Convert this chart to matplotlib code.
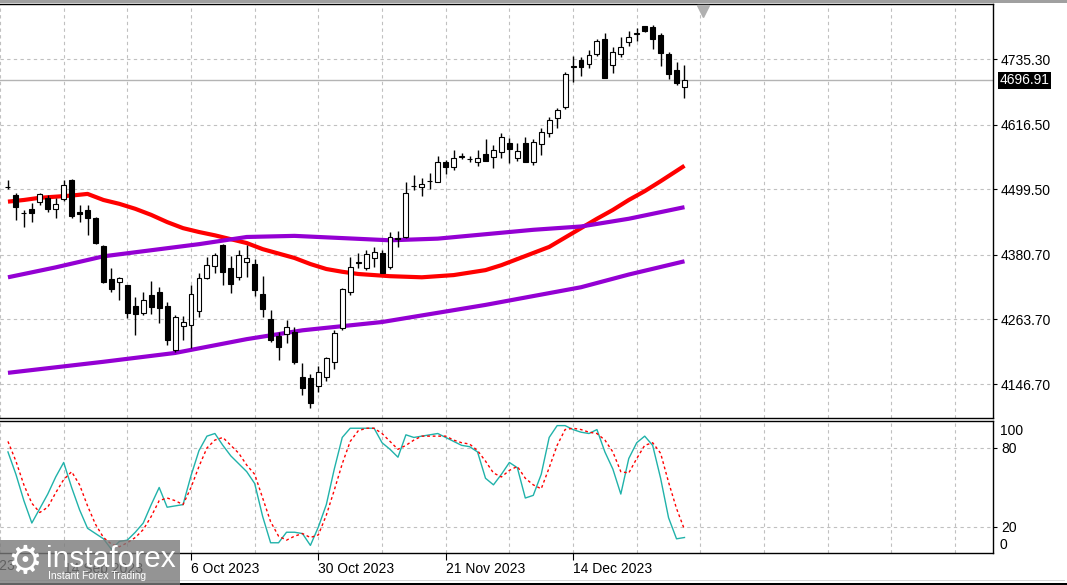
import numpy as np
import matplotlib
matplotlib.use('Agg')
from matplotlib import pyplot as plt
from matplotlib.patches import Rectangle
import matplotlib.transforms as mtransforms

# daily candles, 5 Sep 2023 .. 5 Jan 2024 (one entry per bar)
opens = [4504, 4489, 4457, 4464, 4476, 4484, 4464, 4482, 4516, 4458,
         4462, 4447, 4397, 4337, 4331, 4326, 4288, 4275, 4308, 4313,
         4288, 4208, 4252, 4253, 4279, 4339, 4360, 4398, 4357, 4340,
         4368, 4364, 4310, 4264, 4233, 4237, 4241, 4159, 4158, 4143,
         4159, 4187, 4248, 4313, 4366, 4357, 4375, 4384, 4359, 4409,
         4413, 4505, 4503, 4514, 4512, 4549, 4540, 4558, 4554, 4549,
         4563, 4558, 4567, 4583, 4556, 4583, 4549, 4581, 4601, 4629,
         4648, 4721, 4734, 4726, 4744, 4772, 4724, 4744, 4766, 4781,
         4795, 4793, 4779, 4744, 4715, 4685]
highs = [4516, 4493, 4462, 4475, 4493, 4489, 4484, 4516, 4518, 4471,
         4471, 4449, 4398, 4357, 4340, 4326, 4304, 4313, 4333, 4322,
         4295, 4272, 4270, 4326, 4348, 4377, 4384, 4400, 4378, 4389,
         4398, 4373, 4342, 4281, 4241, 4262, 4250, 4185, 4165, 4179,
         4196, 4244, 4321, 4377, 4384, 4389, 4395, 4389, 4422, 4424,
         4512, 4525, 4520, 4529, 4560, 4552, 4570, 4565, 4560, 4570,
         4590, 4579, 4601, 4592, 4583, 4594, 4590, 4610, 4630, 4647,
         4712, 4741, 4739, 4752, 4772, 4782, 4757, 4775, 4786, 4792,
         4795, 4797, 4782, 4748, 4730, 4724]
lows = [4500, 4444, 4431, 4440, 4471, 4458, 4447, 4478, 4447, 4440,
        4417, 4400, 4329, 4313, 4299, 4266, 4235, 4272, 4273, 4257,
        4217, 4205, 4226, 4212, 4268, 4337, 4348, 4326, 4311, 4335,
        4340, 4306, 4268, 4223, 4190, 4221, 4183, 4127, 4103, 4132,
        4152, 4174, 4244, 4308, 4357, 4353, 4359, 4348, 4355, 4395,
        4411, 4498, 4487, 4500, 4512, 4527, 4534, 4554, 4549, 4541,
        4550, 4538, 4556, 4547, 4550, 4548, 4543, 4561, 4594, 4610,
        4645, 4694, 4704, 4719, 4741, 4700, 4710, 4739, 4759, 4768,
        4784, 4753, 4723, 4699, 4688, 4665]
closes = [4503, 4467, 4456, 4456, 4491, 4464, 4473, 4507, 4451, 4455,
          4447, 4402, 4331, 4319, 4339, 4275, 4273, 4299, 4286, 4284,
          4226, 4268, 4259, 4310, 4339, 4362, 4380, 4350, 4328, 4380,
          4375, 4317, 4282, 4226, 4214, 4250, 4187, 4140, 4112, 4168,
          4194, 4239, 4319, 4359, 4366, 4382, 4386, 4348, 4413, 4411,
          4493, 4505, 4509, 4515, 4549, 4540, 4556, 4558, 4555, 4556,
          4550, 4570, 4594, 4572, 4569, 4549, 4585, 4603, 4625, 4643,
          4708, 4721, 4721, 4742, 4768, 4701, 4748, 4757, 4775, 4781,
          4786, 4772, 4746, 4708, 4692, 4696.91]

# moving averages, read at selected bars
ma_red_idx = [0, 2, 4, 6, 8, 10, 12, 14, 16, 18, 20, 22, 24, 26, 28, 30, 32, 34, 36,
              38, 40, 42, 44, 48, 52, 56, 60, 62, 64, 66, 68, 70, 72, 74, 76, 78, 80, 82, 85]
ma_red = [4477, 4480, 4484, 4486, 4488, 4491, 4480, 4473, 4464, 4453, 4440, 4429, 4422,
          4416, 4409, 4402, 4391, 4383, 4375, 4364, 4355, 4350, 4346, 4342, 4340, 4344,
          4353, 4362, 4373, 4384, 4395, 4412, 4429, 4446, 4462, 4480, 4496, 4514, 4542]
ma_mid_idx = [0, 6, 12, 18, 24, 30, 36, 42, 48, 54, 60, 66, 72, 78, 85]
ma_mid = [4340, 4358, 4378, 4389, 4400, 4413, 4415, 4411, 4407, 4410, 4418, 4426, 4432, 4446, 4467]
ma_low_idx = [0, 12, 21, 30, 37, 47, 60, 72, 78, 85]
ma_low = [4167, 4187, 4203, 4228, 4244, 4259, 4290, 4322, 4345, 4369]

# stochastic oscillator
stoch_k = [77, 60, 40, 23, 34, 45, 58, 69, 50, 33,
           19, 15, 11, 3, 9, 10, 16, 23, 37, 50,
           35, 36, 37, 59, 78, 89, 91, 82, 74, 68,
           62, 53, 28, 8, 8, 16, 16, 15, 6, 20,
           37, 64, 88, 95, 95, 95, 95, 84, 79, 73,
           90, 88, 89, 90, 91, 88, 85, 82, 81, 77,
           57, 52, 60, 69, 65, 42, 44, 60, 88, 97,
           97, 94, 92, 91, 94, 77, 64, 45, 72, 84,
           89, 82, 57, 27, 11, 12]
stoch_d = [85, 70, 52, 38, 31, 35, 46, 56, 62, 52,
           36, 22, 12, 7, 5, 8, 12, 18, 28, 40,
           42, 40, 37, 50, 66, 80, 86, 88, 82, 76,
           67, 60, 42, 24, 13, 10, 13, 15, 12, 14,
           29, 48, 68, 85, 93, 95, 95, 91, 85, 79,
           82, 86, 89, 89, 89, 89, 86, 84, 83, 78,
           70, 61, 58, 63, 66, 57, 52, 49, 65, 82,
           94, 95, 94, 92, 91, 86, 77, 62, 61, 72,
           82, 84, 76, 54, 34, 18]

price_ticks = [4146.70, 4263.70, 4380.70, 4499.50, 4616.50, 4735.30]
date_idx = [-9, 7, 23, 39, 55, 71]
date_labels = ['22 Aug 2023', '14 Sep 2023', '6 Oct 2023', '30 Oct 2023', '21 Nov 2023', '14 Dec 2023']

GRID = '#c0c0c0'


def main():
    plt.rcParams['font.family'] = ['Liberation Sans', 'DejaVu Sans']
    plt.rcParams['font.size'] = 10

    o = np.array(opens, dtype=float)
    h = np.array(highs, dtype=float)
    l = np.array(lows, dtype=float)
    c = np.array(closes, dtype=float)
    x = np.arange(len(o))

    fig = plt.figure(figsize=(10.67, 5.85), dpi=100)
    fig.patch.set_facecolor('w')
    ax1 = fig.add_axes([0, 0.28547, 0.93093, 0.70684])
    ax2 = fig.add_axes([0, 0.05419, 0.93093, 0.22615])

    for ax in (ax1, ax2):
        ax.set_xlim(-0.375, 123.8)
        ax.set_xticks(np.arange(-1, 124, 8), minor=True)
        ax.grid(axis='x', which='both', color=GRID, ls=(0, (3, 3)), lw=0.8)
        ax.grid(axis='y', which='major', color=GRID, ls=(0, (3, 3)), lw=0.8)
        ax.set_axisbelow(True)
        ax.spines['left'].set_visible(False)
        for s in ['top', 'right', 'bottom']:
            ax.spines[s].set_linewidth(1.0)
        ax.yaxis.tick_right()
        ax.tick_params(which='minor', length=0)
        ax.tick_params(axis='y', length=3, pad=2.5, labelsize=10)

    # candles
    body_lo = np.minimum(o, c)
    body_h = np.maximum(np.abs(c - o), 0.9)
    fill = ['white' if cc >= oo else 'black' for oo, cc in zip(o, c)]
    ax1.vlines(x, l, h, color='black', lw=1, zorder=4)
    ax1.bar(x, body_h, bottom=body_lo, width=0.62, color=fill,
            edgecolor='black', lw=0.8, zorder=5)

    # moving averages
    ax1.plot(ma_red_idx, ma_red, color='red', lw=3, zorder=3, solid_capstyle='butt')
    ax1.plot(ma_mid_idx, ma_mid, color='#9400d3', lw=3, zorder=3, solid_capstyle='butt')
    ax1.plot(ma_low_idx, ma_low, color='#9400d3', lw=3, zorder=3, solid_capstyle='butt')

    # last price line + label
    ax1.axhline(c[-1], color='#b4b4b4', lw=1, zorder=1)
    trans = mtransforms.blended_transform_factory(ax1.transAxes, ax1.transData)
    ax1.text(1.0065, c[-1], '%.2f' % c[-1], transform=trans, color='white',
             ha='left', va='center', fontsize=10, clip_on=False,
             bbox=dict(boxstyle='square,pad=0.12', fc='black', ec='none'))

    ax1.set_ylim(4085.2, 4834)
    ax1.set_yticks(price_ticks)
    ax1.set_yticklabels(['%.2f' % p for p in price_ticks])
    ax1.set_xticks([])
    ax1.tick_params(axis='x', length=0, labelbottom=False)

    # small shift marker at top
    ax1.plot([0.708], [0.985], marker='v', ms=8, color='#b0b0b0',
             transform=ax1.transAxes, clip_on=False, zorder=6)

    # stochastic
    ax2.plot(x, stoch_k, color='#20b2aa', lw=1)
    ax2.plot(x, stoch_d, color='red', lw=1, ls=(0, (2, 2)))
    ax2.set_ylim(0, 100.5)
    ax2.set_yticks([20, 80])
    ax2.set_yticklabels(['20', '80'])
    trans2 = mtransforms.blended_transform_factory(ax2.transAxes, ax2.transData)
    ax2.text(1.0065, 93, '100', transform=trans2, ha='left', va='center', fontsize=10, clip_on=False)
    ax2.text(1.0065, 6.3, '0', transform=trans2, ha='left', va='center', fontsize=10, clip_on=False)

    ax2.set_xticks(date_idx[1:])
    ax2.set_xticklabels(date_labels[1:])
    for lab in ax2.get_xticklabels():
        lab.set_ha('left')
    ax2.tick_params(axis='x', length=5, pad=1, labelsize=10)
    trans3 = mtransforms.blended_transform_factory(ax2.transData, ax2.transAxes)
    ax2.text(date_idx[0], -0.045, date_labels[0], transform=trans3, ha='left', va='top',
             fontsize=10, clip_on=False)

    # frame bits of the terminal window
    fig.patches.append(Rectangle((0, 1 - 2.5 / 585), 1, 2.5 / 585, transform=fig.transFigure,
                                 fc='#a0a0a0', ec='none'))
    fig.patches.append(Rectangle((0, 4 / 585), 1065 / 1067, 1.2 / 585, transform=fig.transFigure,
                                 fc='#d8d8d8', ec='none'))
    fig.patches.append(Rectangle((0, 0), 1, 2 / 585, transform=fig.transFigure,
                                 fc='black', ec='none'))

    # watermark (semi-transparent, date label shows through)
    fig.patches.append(Rectangle((0, 0), 180 / 1067, 45 / 585, transform=fig.transFigure,
                                 fc='#7a7a7a', ec='none', alpha=0.8, zorder=10))
    fig.text(25 / 1067, 1 - 562 / 585, '\u2699', color='white', fontsize=28,
             ha='center', va='center', family='DejaVu Sans', zorder=11)
    fig.text(46 / 1067, 1 - 559 / 585, 'instaforex', color='white', fontsize=21.5,
             ha='left', va='center', zorder=11)
    fig.text(48 / 1067, 1 - 576 / 585, 'Instant Forex Trading', color='white', fontsize=7.5,
             ha='left', va='center', zorder=11)

    plt.savefig('out.png', dpi=100)


if __name__ == '__main__':
    main()
